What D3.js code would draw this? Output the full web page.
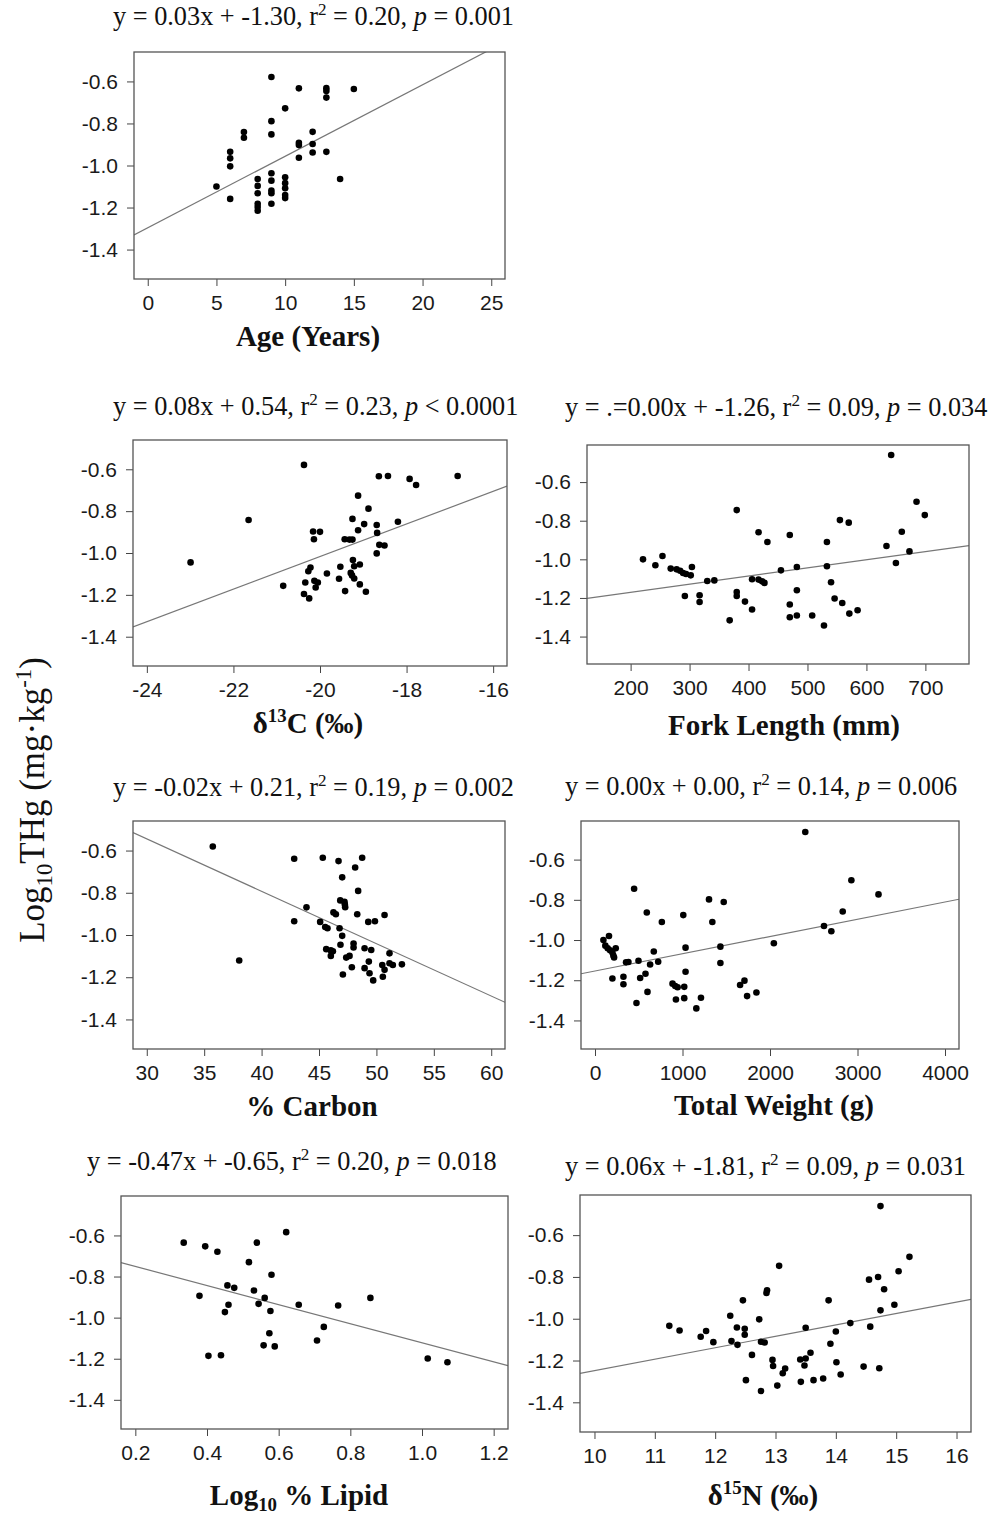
<!DOCTYPE html>
<html>
<head>
<meta charset="utf-8">
<script src="https://cdn.jsdelivr.net/npm/d3@7"></script>
<style>
  body { margin: 0; background: #fff; }
  .tick text { font-family: "Liberation Sans", Arial, sans-serif; font-size: 21px; fill: #1a1a1a; }
  .tick line { stroke: #444; }
</style>
</head>
<body>
<svg id="fig" width="989" height="1517"></svg>
<script>
// ---- data ----
const ageX = [5, 6, 6, 6, 6, 7, 7, 8, 8, 8, 8, 8, 8, 9, 9, 9, 9, 9, 9, 9, 9,
  10, 10, 10, 10, 10, 10, 11, 11, 11, 11, 12, 12, 12, 13, 13, 13, 13, 14, 15];
const ageY = [-1.10, -0.935, -0.966, -1.004, -1.159, -0.841, -0.868,
  -1.064, -1.097, -1.132, -1.182, -1.198, -1.215,
  -0.579, -0.789, -0.852, -1.037, -1.072, -1.119, -1.132, -1.182,
  -0.728, -1.056, -1.084, -1.108, -1.140, -1.155,
  -0.633, -0.892, -0.903, -0.963, -0.840, -0.898, -0.938,
  -0.632, -0.646, -0.677, -0.935, -1.064, -0.636];

const d13cX = [-22.99, -21.65, -20.85, -20.37, -20.37, -20.34, -20.25, -20.27, -20.22, -20.16,
  -20.14, -20.0, -20.13, -20.05, -20.10, -19.84, -19.56, -19.53, -19.42, -19.43,
  -19.32, -19.25, -19.25, -19.24, -19.21, -19.29, -19.26, -19.21, -19.12, -19.12,
  -19.08, -19.08, -18.98, -18.88, -18.94, -18.69, -18.68, -18.64, -18.69, -18.63,
  -18.51, -18.43, -18.20, -17.93, -17.78, -16.82];
const d13cY = [-1.045, -0.842, -1.157, -0.579, -1.196, -1.141, -1.217, -1.087, -1.069, -0.897,
  -0.934, -0.899, -1.133, -1.141, -1.165, -1.098, -1.123, -1.066, -1.182, -0.934,
  -0.936, -0.936, -0.837, -1.034, -1.063, -1.095, -1.107, -1.122, -0.726, -0.891,
  -1.055, -1.150, -0.862, -0.788, -1.185, -0.866, -0.904, -0.633, -1.002, -0.961,
  -0.964, -0.632, -0.851, -0.646, -0.675, -0.632];

const forkX = [221, 242, 254, 268, 278, 284, 289, 294, 302, 304, 292, 317, 317, 330, 342,
  368, 380, 380, 380, 394, 406, 406, 417, 417, 423, 427, 432, 455, 470, 470, 470,
  482, 482, 482, 508, 528, 533, 533, 540, 546, 555, 559, 570, 571, 585,
  634, 642, 650, 660, 673, 685, 699];
const forkY = [-1.000, -1.031, -0.983, -1.048, -1.052, -1.059, -1.071, -1.076, -1.083, -1.040,
  -1.190, -1.186, -1.221, -1.112, -1.109, -1.316, -0.745, -1.169, -1.190, -1.219,
  -1.103, -1.260, -0.860, -1.105, -1.114, -1.122, -0.910, -1.057, -0.874, -1.234, -1.300,
  -1.040, -1.160, -1.291, -1.291, -1.343, -0.910, -1.036, -1.119, -1.203, -0.797,
  -1.226, -0.810, -1.281, -1.264, -0.931, -0.460, -1.019, -0.857, -0.959, -0.702, -0.771];

const carbonX = [35.75, 38.05, 42.84, 42.84, 43.91, 45.10, 45.33, 45.54, 45.74, 45.63,
  46.03, 46.03, 46.21, 46.26, 46.47, 46.70, 46.79, 46.87, 46.85, 47.02,
  47.02, 47.08, 47.22, 47.25, 47.28, 47.37, 47.66, 47.86, 48.01, 48.01,
  48.15, 48.33, 48.41, 48.76, 48.97, 48.97, 49.29, 49.34, 49.55, 49.40,
  49.72, 49.87, 50.51, 50.56, 50.71, 50.71, 51.14, 51.14, 51.43, 52.22];
const carbonY = [-0.581, -1.121, -0.639, -0.935, -0.869, -0.938, -0.634, -0.962, -0.968, -1.067,
  -1.073, -1.099, -1.077, -0.893, -0.902, -0.650, -0.968, -1.046, -0.836, -0.727,
  -1.004, -1.187, -0.843, -0.855, -0.868, -1.107, -1.099, -1.153, -1.040, -1.059,
  -0.680, -0.902, -0.791, -0.634, -1.063, -1.157, -0.938, -1.126, -1.071, -1.181,
  -1.215, -0.935, -1.142, -1.198, -1.165, -0.905, -1.087, -1.134, -1.142, -1.139];

const weightX = [96, 118, 160, 145, 172, 199, 210, 218, 237, 199, 325, 325, 355, 382,
  447, 497, 474, 516, 577, 592, 600, 630, 672, 722, 764, 886, 917, 944, 925,
  1009, 1020, 1020, 1035, 1035, 1158, 1211, 1303, 1341, 1433, 1433, 1471,
  1658, 1708, 1738, 1845, 2044, 2403, 2617, 2701, 2831, 2930, 3240];
const weightY = [-1.000, -1.028, -0.980, -1.041, -1.051, -1.062, -1.077, -1.087, -1.041, -1.191,
  -1.183, -1.220, -1.111, -1.109, -0.745, -1.103, -1.313, -1.189, -1.168, -0.863,
  -1.258, -1.122, -1.057, -1.108, -0.910, -1.217, -1.229, -1.235, -1.296,
  -0.876, -1.233, -1.289, -1.038, -1.158, -1.340, -1.287, -0.798, -0.910, -1.033, -1.114, -0.811,
  -1.224, -1.202, -1.279, -1.261, -1.016, -0.463, -0.930, -0.956, -0.858, -0.703, -0.773];

const lipidX = [0.335, 0.379, 0.395, 0.404, 0.429, 0.439, 0.457, 0.460, 0.450, 0.476,
  0.517, 0.531, 0.539, 0.544, 0.561, 0.558, 0.574, 0.577, 0.580, 0.589,
  0.621, 0.656, 0.707, 0.726, 0.766, 0.856, 1.016, 1.071];
const lipidY = [-0.635, -0.894, -0.653, -1.186, -0.679, -1.183, -0.843, -0.937, -0.973, -0.855,
  -0.730, -0.868, -0.635, -0.933, -0.904, -1.135, -1.076, -0.968, -0.791, -1.140,
  -0.584, -0.937, -1.111, -1.045, -0.941, -0.904, -1.199, -1.217];

const d15nX = [11.24, 11.41, 11.76, 11.85, 11.97, 12.25, 12.27, 12.36, 12.37, 12.46,
  12.49, 12.49, 12.51, 12.61, 12.73, 12.76, 12.76, 12.82, 12.85, 12.86,
  12.95, 12.96, 13.03, 13.06, 13.12, 13.16, 13.41, 13.42, 13.50, 13.50,
  13.48, 13.58, 13.63, 13.79, 13.88, 13.91, 14.00, 14.01, 14.08, 14.24,
  14.46, 14.55, 14.57, 14.70, 14.72, 14.74, 14.74, 14.80, 14.97, 15.04, 15.22];
const d15nY = [-1.034, -1.056, -1.086, -1.059, -1.112, -0.986, -1.107, -1.042, -1.125, -0.912,
  -1.048, -1.077, -1.294, -1.173, -1.003, -1.110, -1.346, -1.114, -0.877, -0.864,
  -1.197, -1.226, -1.320, -0.747, -1.261, -1.238, -1.195, -1.302, -1.190, -1.043,
  -1.224, -1.163, -1.294, -1.286, -0.912, -1.120, -1.061, -1.208, -1.267, -1.021,
  -1.229, -0.813, -1.038, -0.800, -1.237, -0.461, -0.960, -0.859, -0.933, -0.773, -0.704];

// fitted lines (slope, intercept) as drawn
const fitSlope = [0.034, 0.0779, 0.000423, -0.0248, 0.0000858, -0.464, 0.0546];
const fitIntercept = [-1.296, 0.541, -1.256, 0.199, -1.154, -0.658, -1.794];

// equation captions
const eqText = ["y = 0.03x + -1.30", "y = 0.08x + 0.54", "y = .=0.00x + -1.26",
  "y = -0.02x + 0.21", "y = 0.00x + 0.00", "y = -0.47x + -0.65", "y = 0.06x + -1.81"];
const r2Text = ["0.20", "0.23", "0.09", "0.19", "0.14", "0.20", "0.09"];
const pText = ["= 0.001", "< 0.0001", "= 0.034", "= 0.002", "= 0.006", "= 0.018", "= 0.031"];

// x axis labels: [text, mode]
const xLabels = [
  [["Age (Years)", ""]],
  [["δ", ""], ["13", "sup"], ["C (‰)", ""]],
  [["Fork Length (mm)", ""]],
  [["% Carbon", ""]],
  [["Total Weight (g)", ""]],
  [["Log", ""], ["10", "sub"], [" % Lipid", ""]],
  [["δ", ""], ["15", "sup"], ["N (‰)", ""]]
];

// axis limits (R style, padded 4%)
const xLims = [[0, 25], [-24, -16], [150, 750], [30, 60], [0, 4000], [0.2, 1.2], [10, 16]];
const yLims = [[-1.5, -0.5], [-1.5, -0.5], [-1.5, -0.45], [-1.5, -0.5], [-1.5, -0.45], [-1.5, -0.45], [-1.5, -0.45]];
const xTicks = [[0, 5, 10, 15, 20, 25], [-24, -22, -20, -18, -16], [200, 300, 400, 500, 600, 700],
  [30, 35, 40, 45, 50, 55, 60], [0, 1000, 2000, 3000, 4000], [0.2, 0.4, 0.6, 0.8, 1.0, 1.2],
  [10, 11, 12, 13, 14, 15, 16]];
const yTicks = [-0.6, -0.8, -1.0, -1.2, -1.4];

const xs = [ageX, d13cX, forkX, carbonX, weightX, lipidX, d15nX];
const ys = [ageY, d13cY, forkY, carbonY, weightY, lipidY, d15nY];

// ---- layout (pixel boxes) ----
const boxes = [
  { l: 134, r: 505, t: 52, b: 279 },
  { l: 133, r: 507, t: 440, b: 666 },
  { l: 587, r: 969, t: 445, b: 664 },
  { l: 133, r: 505, t: 821, b: 1049 },
  { l: 581, r: 959, t: 821, b: 1049 },
  { l: 121, r: 508, t: 1196, b: 1429 },
  { l: 580, r: 971, t: 1195, b: 1432 }
];
const titlePos = [[113, 25], [113, 415], [565, 416], [113, 796], [565, 795], [87, 1170], [565, 1175]];
const labelPos = [[308, 346], [308, 733], [784, 735], [312, 1116], [774, 1115], [299, 1505], [763, 1505]];

const svg = d3.select('#fig');
const serif = '"Liberation Serif", "Times New Roman", serif';

function pad(lim) {
  let d = (lim[1] - lim[0]) * 0.04;
  return [lim[0] - d, lim[1] + d];
}

function richText(sel, parts, fs) {
  let shift = 0;
  parts.forEach(function (p) {
    let ts = sel.append('tspan').text(p[0]);
    if (p[1] == 'sup' || p[1] == 'sub') {
      let dy = p[1] == 'sup' ? -fs * 0.38 : fs * 0.22;
      ts.attr('font-size', fs * 0.65).attr('dy', dy);
      shift = -dy;
    } else {
      if (p[1] == 'it') ts.attr('font-style', 'italic');
      if (shift) { ts.attr('dy', shift); shift = 0; }
    }
  });
}

for (let i = 0; i < 7; i++) {
  let b = boxes[i];
  let x = d3.scaleLinear().domain(pad(xLims[i])).range([b.l, b.r]);
  let y = d3.scaleLinear().domain(pad(yLims[i])).range([b.b, b.t]);
  let g = svg.append('g');

  g.append('clipPath').attr('id', 'clip' + i)
    .append('rect').attr('x', b.l).attr('y', b.t).attr('width', b.r - b.l).attr('height', b.b - b.t);

  // axes
  let xa = g.append('g').attr('transform', `translate(0,${b.b})`)
    .call(d3.axisBottom(x).tickValues(xTicks[i]).tickSize(7).tickPadding(9).tickSizeOuter(0)
      .tickFormat(d => i == 5 ? d.toFixed(1) : String(d)));
  let ya = g.append('g').attr('transform', `translate(${b.l},0)`)
    .call(d3.axisLeft(y).tickValues(yTicks).tickSize(7).tickPadding(9).tickSizeOuter(0)
      .tickFormat(d => d.toFixed(1)));
  xa.select('.domain').remove();
  ya.select('.domain').remove();

  // fitted line
  let dom = x.domain();
  let lineData = dom.map(v => [v, fitSlope[i] * v + fitIntercept[i]]);
  g.append('path')
    .attr('d', d3.line().x(d => x(d[0])).y(d => y(d[1]))(lineData))
    .attr('clip-path', `url(#clip${i})`)
    .attr('fill', 'none')
    .attr('stroke', '#777')
    .attr('stroke-width', 1.2);

  // points
  g.selectAll('.pt').data(xs[i].map((v, k) => [v, ys[i][k]])).enter()
    .append('circle')
    .attr('class', 'pt')
    .attr('cx', d => x(d[0]))
    .attr('cy', d => y(d[1]))
    .attr('r', 3.3)
    .attr('fill', '#000');

  // box
  g.append('rect')
    .attr('x', b.l).attr('y', b.t).attr('width', b.r - b.l).attr('height', b.b - b.t)
    .attr('fill', 'none').attr('stroke', '#555').attr('stroke-width', 1.3);

  // caption
  let t = svg.append('text')
    .attr('x', titlePos[i][0]).attr('y', titlePos[i][1])
    .attr('font-family', serif).attr('font-size', 26.3).attr('fill', '#111');
  richText(t, [[eqText[i] + ', r', ''], ['2', 'sup'], [' = ' + r2Text[i] + ', ', ''], ['p', 'it'], [' ' + pText[i], '']], 26.3);

  // x label
  let xl = svg.append('text')
    .attr('x', labelPos[i][0]).attr('y', labelPos[i][1])
    .attr('text-anchor', 'middle')
    .attr('font-family', serif).attr('font-size', 29).attr('font-weight', 'bold').attr('fill', '#111');
  richText(xl, xLabels[i], 29);
}

// shared y label
let yl = svg.append('text')
  .attr('transform', 'translate(44,800) rotate(-90)')
  .attr('text-anchor', 'middle')
  .attr('font-family', serif).attr('font-size', 35).attr('fill', '#111');
richText(yl, [['Log', ''], ['10', 'sub'], ['THg (mg·kg', ''], ['-1', 'sup'], [')', '']], 35);
</script>
</body>
</html>
